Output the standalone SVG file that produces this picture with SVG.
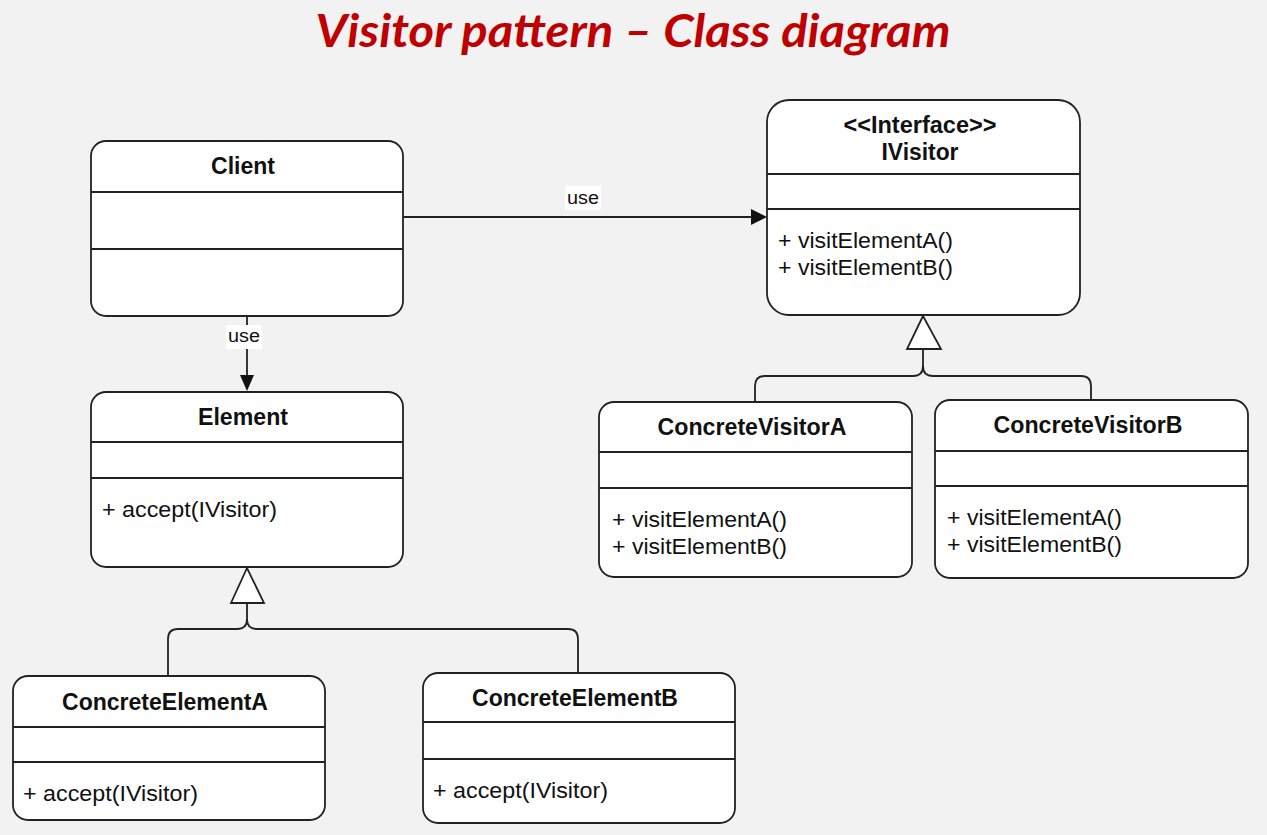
<svg xmlns="http://www.w3.org/2000/svg" width="1267" height="835" viewBox="0 0 1267 835">
<style>
.box{fill:#ffffff;stroke:#222;stroke-width:1.8}
.sep{stroke:#222;stroke-width:1.8}
.ttl{font-family:"Liberation Sans",Arial,sans-serif;font-weight:bold;font-size:23px;fill:#111;text-anchor:middle}
.op{font-family:"Liberation Sans",Arial,sans-serif;font-size:22px;fill:#111}
.lbl{font-family:"Liberation Sans",Arial,sans-serif;font-size:18px;fill:#111;text-anchor:middle}
.edge{fill:none;stroke:#222;stroke-width:1.8}
.tri{fill:#ffffff;stroke:#222;stroke-width:1.8;stroke-linejoin:miter}
.head{fill:#111}
</style>
<rect width="1267" height="835" fill="#f2f2f2"/>
<text x="633" y="47" font-family="Lato,'Open Sans',sans-serif" font-weight="bold" font-style="italic" font-size="45" fill="#c00000" text-anchor="middle" textLength="635" lengthAdjust="spacingAndGlyphs">Visitor pattern – Class diagram</text>

<g id="connectors">
  <line class="edge" x1="403" y1="217" x2="753" y2="217"/>
  <polygon class="head" points="767,217 751,209 751,225"/>
  <rect x="565" y="186" width="36" height="24" fill="#fff"/>
  <text class="lbl" x="583" y="204" textLength="32" lengthAdjust="spacingAndGlyphs">use</text>

  <line class="edge" x1="247" y1="316" x2="247" y2="377"/>
  <polygon class="head" points="247,391 240,375 254,375"/>
  <rect x="226" y="325" width="36" height="24" fill="#fff"/>
  <text class="lbl" x="244" y="342" textLength="32" lengthAdjust="spacingAndGlyphs">use</text>

  <path class="edge" d="M247,603 V619 Q247,629 237,629 H178 Q168,629 168,639 V676"/>
  <path class="edge" d="M247,619 Q247,629 257,629 H568 Q578,629 578,639 V673"/>
  <polygon class="tri" points="247,568 231,603 264,603"/>

  <path class="edge" d="M923,349 V366 Q923,376 913,376 H765 Q755,376 755,386 V402"/>
  <path class="edge" d="M923,366 Q923,376 933,376 H1081 Q1091,376 1091,386 V400"/>
  <polygon class="tri" points="923,316 907,349 941,349"/>
</g>

<g id="Client">
  <rect class="box" x="91" y="141" width="312" height="175" rx="15"/>
  <line class="sep" x1="91" y1="192" x2="403" y2="192"/>
  <line class="sep" x1="91" y1="249" x2="403" y2="249"/>
  <text class="ttl" x="243" y="174" textLength="64" lengthAdjust="spacingAndGlyphs">Client</text>
</g>

<g id="IVisitor">
  <rect class="box" x="767" y="100" width="313" height="215" rx="22"/>
  <line class="sep" x1="767" y1="174" x2="1080" y2="174"/>
  <line class="sep" x1="767" y1="209" x2="1080" y2="209"/>
  <text class="ttl" x="920" y="133" textLength="153" lengthAdjust="spacingAndGlyphs">&lt;&lt;Interface&gt;&gt;</text>
  <text class="ttl" x="920" y="160" textLength="77" lengthAdjust="spacingAndGlyphs">IVisitor</text>
  <text class="op" x="778" y="248" textLength="175" lengthAdjust="spacingAndGlyphs">+ visitElementA()</text>
  <text class="op" x="778" y="275" textLength="175" lengthAdjust="spacingAndGlyphs">+ visitElementB()</text>
</g>

<g id="Element">
  <rect class="box" x="91" y="392" width="312" height="175" rx="15"/>
  <line class="sep" x1="91" y1="442" x2="403" y2="442"/>
  <line class="sep" x1="91" y1="478" x2="403" y2="478"/>
  <text class="ttl" x="243" y="425" textLength="90" lengthAdjust="spacingAndGlyphs">Element</text>
  <text class="op" x="102" y="517" textLength="175" lengthAdjust="spacingAndGlyphs">+ accept(IVisitor)</text>
</g>

<g id="ConcreteElementA">
  <rect class="box" x="13" y="676" width="312" height="144" rx="15"/>
  <line class="sep" x1="13" y1="727" x2="325" y2="727"/>
  <line class="sep" x1="13" y1="762" x2="325" y2="762"/>
  <text class="ttl" x="165" y="710" textLength="206" lengthAdjust="spacingAndGlyphs">ConcreteElementA</text>
  <text class="op" x="23" y="801" textLength="175" lengthAdjust="spacingAndGlyphs">+ accept(IVisitor)</text>
</g>

<g id="ConcreteElementB">
  <rect class="box" x="423" y="673" width="312" height="150" rx="15"/>
  <line class="sep" x1="423" y1="722" x2="735" y2="722"/>
  <line class="sep" x1="423" y1="759" x2="735" y2="759"/>
  <text class="ttl" x="575" y="706" textLength="206" lengthAdjust="spacingAndGlyphs">ConcreteElementB</text>
  <text class="op" x="433" y="798" textLength="175" lengthAdjust="spacingAndGlyphs">+ accept(IVisitor)</text>
</g>

<g id="ConcreteVisitorA">
  <rect class="box" x="599" y="402" width="313" height="175" rx="15"/>
  <line class="sep" x1="599" y1="452" x2="912" y2="452"/>
  <line class="sep" x1="599" y1="488" x2="912" y2="488"/>
  <text class="ttl" x="752" y="435" textLength="189" lengthAdjust="spacingAndGlyphs">ConcreteVisitorA</text>
  <text class="op" x="612" y="527" textLength="175" lengthAdjust="spacingAndGlyphs">+ visitElementA()</text>
  <text class="op" x="612" y="554" textLength="175" lengthAdjust="spacingAndGlyphs">+ visitElementB()</text>
</g>

<g id="ConcreteVisitorB">
  <rect class="box" x="935" y="400" width="313" height="178" rx="15"/>
  <line class="sep" x1="935" y1="451" x2="1248" y2="451"/>
  <line class="sep" x1="935" y1="486" x2="1248" y2="486"/>
  <text class="ttl" x="1088" y="433" textLength="189" lengthAdjust="spacingAndGlyphs">ConcreteVisitorB</text>
  <text class="op" x="947" y="525" textLength="175" lengthAdjust="spacingAndGlyphs">+ visitElementA()</text>
  <text class="op" x="947" y="552" textLength="175" lengthAdjust="spacingAndGlyphs">+ visitElementB()</text>
</g>
</svg>
